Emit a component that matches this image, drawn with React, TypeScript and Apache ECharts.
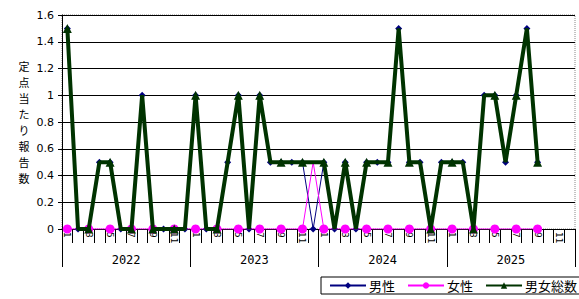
import React, { useEffect, useRef } from "react";
import * as echarts from "echarts";

const years = ["2022", "2023", "2024", "2025"];
const months = ["1", "2", "3", "4", "5", "6", "7", "8", "9", "10", "11", "12"];

const male = [
  1.5, 0, 0, 0.5, 0.5, 0, 0, 1.0, 0, 0, 0, 0,
  1.0, 0, 0, 0.5, 1.0, 0, 1.0, 0.5, 0.5, 0.5, 0.5, 0,
  0.5, 0, 0.5, 0, 0.5, 0.5, 0.5, 1.5, 0.5, 0.5, 0, 0.5,
  0.5, 0.5, 0, 1.0, 1.0, 0.5, 1.0, 1.5, 0.5, null, null, null,
];
const female = [
  0, 0, 0, 0, 0, 0, 0, 0, 0, 0, 0, 0,
  0, 0, 0, 0, 0, 0, 0, 0, 0, 0, 0, 0.5,
  0, 0, 0, 0, 0, 0, 0, 0, 0, 0, 0, 0,
  0, 0, 0, 0, 0, 0, 0, 0, 0, null, null, null,
];
const total = [
  1.5, 0, 0, 0.5, 0.5, 0, 0, 1.0, 0, 0, 0, 0,
  1.0, 0, 0, 0.5, 1.0, 0, 1.0, 0.5, 0.5, 0.5, 0.5, 0.5,
  0.5, 0, 0.5, 0, 0.5, 0.5, 0.5, 1.5, 0.5, 0.5, 0, 0.5,
  0.5, 0.5, 0, 1.0, 1.0, 0.5, 1.0, 1.5, 0.5, null, null, null,
];

const yTitle = "定点当たり報告数";
const seriesNames = ["男性", "女性", "男女総数"];

export default function App() {
  const ref = useRef<HTMLDivElement>(null);
  useEffect(() => {
    if (!ref.current) return;
    const chart = echarts.init(ref.current, undefined, { renderer: "svg" });
    const categories: string[] = [];
    years.forEach((y) => months.forEach((m) => categories.push(y + "-" + m)));
    const font = "'Noto Sans CJK JP', sans-serif";
    const titleChars = yTitle.split("").map((ch, i) => ({
      type: "text",
      x: 24,
      y: 66 + i * 16,
      style: {
        text: ch,
        font: "11px 'Noto Sans CJK JP'",
        fill: "#000",
        align: "center",
        verticalAlign: "middle",
      },
    }));
    chart.setOption({
      animation: false,
      backgroundColor: "#fff",
      textStyle: { fontFamily: font },
      grid: {
        left: 62,
        right: 4,
        top: 15,
        bottom: 70,
        show: true,
        borderColor: "#888",
        borderType: "dotted",
        borderWidth: 1,
        backgroundColor: "#fff",
      },
      graphic: titleChars,
      legend: {
        left: 321,
        top: 277,
        width: 255,
        height: 19,
        padding: [2, 6, 2, 8],
        borderColor: "#000",
        borderWidth: 1,
        itemGap: 12,
        itemWidth: 36,
        itemHeight: 8,
        data: seriesNames,
        textStyle: { fontSize: 13, color: "#000", fontFamily: font, padding: [0, 0, 0, -2] },
      },
      xAxis: [
        {
          type: "category",
          data: categories,
          boundaryGap: true,
          axisLine: { show: true, lineStyle: { color: "#000", width: 1 } },
          axisTick: { show: true, interval: 0, length: 14, lineStyle: { color: "#000" } },
          axisLabel: {
            interval: 1,
            rotate: -90,
            fontSize: 9,
            margin: 3,
            color: "#000",
            fontFamily: "'DejaVu Sans', sans-serif",
            formatter: (v: string) => v.split("-")[1],
          },
          splitLine: { show: false },
        },
        {
          type: "category",
          data: years,
          position: "bottom",
          boundaryGap: true,
          axisLine: { show: false },
          axisTick: { show: true, length: 38, lineStyle: { color: "#000" } },
          axisLabel: { fontSize: 12, margin: 25, color: "#000", fontFamily: "'DejaVu Sans Mono', monospace" },
          splitLine: { show: false },
        },
      ],
      yAxis: {
        type: "value",
        min: 0,
        max: 1.6,
        interval: 0.2,
        axisLine: { show: true, lineStyle: { color: "#000" } },
        axisTick: { show: true, length: 4, lineStyle: { color: "#000" } },
        axisLabel: {
          fontSize: 11,
          color: "#000",
          margin: 8,
          fontFamily: "'DejaVu Sans', sans-serif",
          formatter: (v: number) => String(Math.round(v * 10) / 10),
        },
        splitLine: { show: true, lineStyle: { color: "#000", width: 1 } },
      },
      series: [
        {
          name: seriesNames[0],
          type: "line",
          data: male,
          xAxisIndex: 0,
          symbol: "diamond",
          symbolSize: 7,
          itemStyle: { color: "#000080" },
          lineStyle: { color: "#000080", width: 1 },
          z: 2,
        },
        {
          name: seriesNames[1],
          type: "line",
          data: female,
          xAxisIndex: 0,
          symbol: "circle",
          symbolSize: 9,
          itemStyle: { color: "#ff00ff" },
          lineStyle: { color: "#ff00ff", width: 1 },
          z: 3,
        },
        {
          name: seriesNames[2],
          type: "line",
          data: total,
          xAxisIndex: 0,
          symbol: "triangle",
          symbolSize: 9,
          itemStyle: { color: "#003300" },
          lineStyle: { color: "#003300", width: 4 },
          z: 4,
        },
      ],
    });
    return () => chart.dispose();
  }, []);
  return (
    <div
      ref={ref}
      style={{ position: "fixed", left: 0, top: 0, width: 579, height: 299 }}
    />
  );
}
